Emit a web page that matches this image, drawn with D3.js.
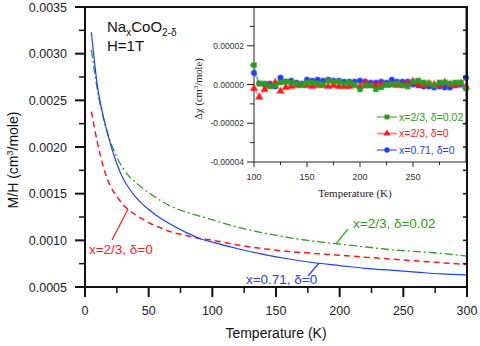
<!DOCTYPE html>
<html lang="en">
<head>
<meta charset="UTF-8">
<title>NaxCoO2 susceptibility</title>
<style>
  body { margin: 0; background: #fff; }
  text { font-family: Arial, "Liberation Sans", sans-serif; }
  .serif { font-family: "Times New Roman", "Liberation Serif", serif; }
</style>
</head>
<body>
<div id="chart"></div>
<script src="https://d3js.org/d3.v7.min.js"></script>
<script>
// main curves: temperature (K) and M/H (cm^3/mole)
var temps = [5, 10, 15, 20, 25, 30, 35, 40, 45, 50, 60, 70, 80, 90, 100, 120, 140, 160, 180, 200, 220, 240, 260, 280, 300];
var chiBlue  = [0.00323, 0.00263, 0.00229, 0.00203, 0.00182, 0.00166, 0.00155, 0.00146, 0.00139, 0.00133, 0.00123, 0.00115, 0.00108, 0.00102, 0.00098, 0.00091, 0.00085, 0.00080, 0.00076, 0.00073, 0.00070, 0.00068, 0.00066, 0.00064, 0.00063];
var chiRed   = [0.00238, 0.00203, 0.00176, 0.00158, 0.00147, 0.00138, 0.00132, 0.00127, 0.00123, 0.00119, 0.00113, 0.00108, 0.00105, 0.00102, 0.00100, 0.00095, 0.00091, 0.00088, 0.00086, 0.00084, 0.00082, 0.00080, 0.00078, 0.00076, 0.00074];
var chiGreen = [0.00304, 0.00259, 0.00228, 0.00206, 0.00189, 0.00177, 0.00168, 0.00162, 0.00156, 0.00151, 0.00142, 0.00135, 0.00130, 0.00126, 0.00122, 0.00114, 0.00108, 0.00103, 0.00099, 0.00096, 0.00093, 0.00090, 0.00088, 0.00086, 0.00083];

// inset: difference, in units of 1e-5 cm^3/mole
var insetT = [100, 105, 110, 115, 120, 125, 130, 135, 140, 145, 150, 155, 160, 165, 170, 175, 180, 185, 190, 195, 200,
              205, 210, 215, 220, 225, 230, 235, 240, 245, 250, 255, 260, 265, 270, 275, 280, 285, 290, 295, 300];
var dGreen = [1.0, 0.05, 0.05, -0.1, -0.05, 0.1, 0.15, 0.1, 0.05, 0.0, 0.1, 0.1, 0.05, 0.0, 0.2, 0.15, 0.15, 0.05, 0.1, 0.0, -0.25,
              -0.05, -0.05, -0.25, -0.15, 0.0, 0.0, 0.05, -0.05, -0.1, 0.15, 0.2, 0.1, 0.05, -0.05, 0.1, 0.1, 0.05, 0.1, 0.1, -0.2];
var dRed   = [-0.2, -0.65, -0.25, -0.05, 0.1, -0.35, -0.15, -0.1, -0.05, -0.05, -0.05, -0.1, -0.05, -0.05, -0.1, -0.05, -0.1, -0.1, -0.1, -0.05, -0.1,
              0.1, -0.05, -0.05, 0.0, -0.05, 0.0, -0.05, 0.0, 0.05, 0.15, 0.0, -0.05, 0.05, 0.0, -0.05, 0.1, 0.0, -0.05, 0.05, -0.1];
var dBlue  = [0.6, 0.05, 0.0, 0.05, -0.1, 0.35, 0.15, 0.2, 0.1, 0.05, 0.25, 0.2, 0.25, 0.2, 0.25, 0.2, 0.2, 0.15, 0.15, 0.15, 0.2,
              0.15, 0.1, 0.1, 0.15, 0.1, 0.25, 0.15, 0.15, 0.15, 0.0, -0.05, -0.1, -0.1, -0.15, -0.1, -0.15, -0.15, -0.05, 0.0, 0.35];

var mainYTicks = [0.0005, 0.0010, 0.0015, 0.0020, 0.0025, 0.0030, 0.0035];
var mainXTicks = [0, 50, 100, 150, 200, 250, 300];
var insetYTicks = [-4, -2, 0, 2];
var insetXTicks = [100, 150, 200, 250];

var cBlue = "#1f3dff", cRed = "#ff1a1a", cGreen = "#2f9a22";

var W = 480, H = 346;
var svg = d3.select("#chart").append("svg").attr("width", W).attr("height", H);

var x = d3.scaleLinear().domain([0, 300]).range([85, 467]);
var y = d3.scaleLinear().domain([0.0005, 0.0035]).range([287, 7]);

// curves
var line = d3.line().x(function(d) { return x(d[0]); }).y(function(d) { return y(d[1]); }).curve(d3.curveMonotoneX);
function pairs(a, b) { return a.map(function(v, i) { return [v, b[i]]; }); }

svg.append("path").attr("d", line(pairs(temps, chiGreen))).attr("fill", "none")
  .attr("stroke", cGreen).attr("stroke-width", 1.3).attr("stroke-dasharray", "8,3,2,3");
svg.append("path").attr("d", line(pairs(temps, chiRed))).attr("fill", "none")
  .attr("stroke", cRed).attr("stroke-width", 1.5).attr("stroke-dasharray", "6,4");
svg.append("path").attr("d", line(pairs(temps, chiBlue))).attr("fill", "none")
  .attr("stroke", cBlue).attr("stroke-width", 1.2);

// main axes
var minorY = d3.range(0.00075, 0.0035, 0.0005);
var minorX = d3.range(25, 300, 50);
var ax = svg.append("g").attr("stroke", "#111");
mainYTicks.forEach(function(v) {
  ax.append("line").attr("x1", 75).attr("x2", 85).attr("y1", y(v)).attr("y2", y(v)).attr("stroke-width", 2);
});
minorY.forEach(function(v) {
  ax.append("line").attr("x1", 79).attr("x2", 85).attr("y1", y(v)).attr("y2", y(v)).attr("stroke-width", 1.5);
});
mainXTicks.forEach(function(t) {
  ax.append("line").attr("x1", x(t)).attr("x2", x(t)).attr("y1", 287).attr("y2", 297).attr("stroke-width", 2);
});
minorX.forEach(function(t) {
  ax.append("line").attr("x1", x(t)).attr("x2", x(t)).attr("y1", 287).attr("y2", 293).attr("stroke-width", 1.5);
});

svg.selectAll(".ylab").data(mainYTicks).enter().append("text")
  .attr("x", 67).attr("y", function(d) { return y(d) + 4.5; })
  .attr("text-anchor", "end").attr("font-size", 12.5).attr("fill", "#222")
  .text(function(d) { return d3.format(".4f")(d); });
svg.selectAll(".xlab").data(mainXTicks).enter().append("text")
  .attr("x", function(d) { return x(d); }).attr("y", 315)
  .attr("text-anchor", "middle").attr("font-size", 12.5).attr("fill", "#222")
  .text(function(d) { return d; });

svg.append("text").attr("x", 276).attr("y", 338).attr("text-anchor", "middle")
  .attr("font-size", 14).attr("fill", "#111").text("Temperature (K)");
var yt = svg.append("text").attr("transform", "translate(18,160) rotate(-90)")
  .attr("text-anchor", "middle").attr("font-size", 14).attr("fill", "#111");
yt.append("tspan").text("M/H (cm");
yt.append("tspan").attr("dy", -5).attr("font-size", 9).text("3");
yt.append("tspan").attr("dy", 5).text("/mole)");

// compound label
var t1 = svg.append("text").attr("x", x(17.3)).attr("y", y(0.003232)).attr("font-size", 15).attr("fill", "#111");
t1.append("tspan").text("Na");
t1.append("tspan").attr("dy", 4).attr("font-size", 10).text("x");
t1.append("tspan").attr("dy", -4).text("CoO");
t1.append("tspan").attr("dy", 4).attr("font-size", 10).text("2-δ");
svg.append("text").attr("x", x(17.3)).attr("y", y(0.003030)).attr("font-size", 15).attr("fill", "#111").text("H=1T");

// curve labels with leaders
var notes = [
  { t: "x=2/3, δ=0",    c: cRed,   lx: 3.1,   ly: 0.000854, a: [21.2, 0.001004], b: [33.8, 0.001336] },
  { t: "x=2/3, δ=0.02", c: cGreen, lx: 210.5, ly: 0.001132, a: [197, 0.000961],  b: [206.5, 0.001121] },
  { t: "x=0.71, δ=0",   c: cBlue,  lx: 126.4, ly: 0.000532, a: [175.1, 0.000618], b: [183.8, 0.000757] }
];
notes.forEach(function(n) {
  svg.append("line").attr("x1", x(n.a[0])).attr("y1", y(n.a[1])).attr("x2", x(n.b[0])).attr("y2", y(n.b[1]))
    .attr("stroke", n.c).attr("stroke-width", 1.2);
  svg.append("text").attr("x", x(n.lx)).attr("y", y(n.ly)).attr("font-size", 13.5).attr("fill", n.c).text(n.t);
});

// ---- inset ----
var ix = d3.scaleLinear().domain([100, 300]).range([254, 466]);
var iy = d3.scaleLinear().domain([-4e-5, 4e-5]).range([162, 7]);
var ig = svg.append("g");
ig.append("rect").attr("x", 254).attr("y", 7).attr("width", 212).attr("height", 155)
  .attr("fill", "#fff").attr("stroke", "#222").attr("stroke-width", 1);

insetYTicks.forEach(function(v) {
  ig.append("line").attr("x1", 247).attr("x2", 254).attr("y1", iy(v * 1e-5)).attr("y2", iy(v * 1e-5)).attr("stroke", "#222");
});
[-3, -1, 1, 3].forEach(function(v) {
  ig.append("line").attr("x1", 250).attr("x2", 254).attr("y1", iy(v * 1e-5)).attr("y2", iy(v * 1e-5)).attr("stroke", "#222");
});
insetXTicks.forEach(function(t) {
  ig.append("line").attr("x1", ix(t)).attr("x2", ix(t)).attr("y1", 162).attr("y2", 167).attr("stroke", "#222");
});
[125, 175, 225, 275].forEach(function(t) {
  ig.append("line").attr("x1", ix(t)).attr("x2", ix(t)).attr("y1", 162).attr("y2", 165).attr("stroke", "#222");
});
ig.selectAll(".iyl").data(insetYTicks).enter().append("text")
  .attr("x", 244).attr("y", function(d) { return iy(d * 1e-5) + 3; })
  .attr("text-anchor", "end").attr("font-size", 8.5).attr("fill", "#333")
  .text(function(d) { return (d < 0 ? "-" : "") + d3.format(".5f")(Math.abs(d) * 1e-5); });
ig.selectAll(".ixl").data(insetXTicks).enter().append("text")
  .attr("x", function(d) { return ix(d); }).attr("y", 180)
  .attr("text-anchor", "middle").attr("font-size", 9).attr("fill", "#333").text(function(d) { return d; });
ig.append("text").attr("class", "serif").attr("x", 355).attr("y", 197).attr("text-anchor", "middle")
  .attr("font-size", 11).attr("fill", "#222").text("Temperature (K)");
var iyt = ig.append("text").attr("class", "serif").attr("transform", "translate(202,89) rotate(-90)")
  .attr("text-anchor", "middle").attr("font-size", 10.5).attr("fill", "#222");
iyt.append("tspan").text("Δχ (cm");
iyt.append("tspan").attr("dy", -4).attr("font-size", 7).text("3");
iyt.append("tspan").attr("dy", 4).text("/mole)");

var iline = d3.line().x(function(d) { return ix(d[0]); }).y(function(d) { return iy(d[1] * 1e-5); });
var series = [
  { d: dBlue, c: cBlue, m: d3.symbolCircle, s: 22, name: "x=0.71, δ=0" },
  { d: dRed, c: cRed, m: d3.symbolTriangle, s: 22, name: "x=2/3, δ=0" },
  { d: dGreen, c: cGreen, m: d3.symbolSquare, s: 24, name: "x=2/3, δ=0.02" }
];
series.forEach(function(s) {
  var pts = pairs(insetT, s.d);
  ig.append("path").attr("d", iline(pts)).attr("fill", "none").attr("stroke", s.c)
    .attr("stroke-opacity", 0.6).attr("stroke-width", 1);
  ig.selectAll(null).data(pts).enter().append("path")
    .attr("d", d3.symbol().type(s.m).size(s.s))
    .attr("transform", function(d) { return "translate(" + ix(d[0]) + "," + iy(d[1] * 1e-5) + ")"; })
    .attr("fill", s.c).attr("stroke", s.c).attr("stroke-opacity", 0.35).attr("stroke-width", 1.5);
});

// inset legend
var legOrder = [series[2], series[1], series[0]];
legOrder.forEach(function(s, i) {
  var ly = 117 + i * 16.5;
  ig.append("line").attr("x1", 377).attr("x2", 397).attr("y1", ly).attr("y2", ly)
    .attr("stroke", s.c).attr("stroke-opacity", 0.5).attr("stroke-width", 2);
  ig.append("path").attr("d", d3.symbol().type(s.m).size(s.s)).attr("transform", "translate(387," + ly + ")")
    .attr("fill", s.c);
  ig.append("text").attr("x", 399).attr("y", ly + 3.5).attr("font-size", 10.5).attr("fill", s.c).text(s.name);
});

// right frame ticks drawn over inset, then frame
mainYTicks.concat(minorY).forEach(function(v) {
  svg.append("line").attr("x1", 463).attr("x2", 467).attr("y1", y(v)).attr("y2", y(v)).attr("stroke", "#111").attr("stroke-width", 1.5);
});
svg.append("rect").attr("x", 85).attr("y", 7).attr("width", 382).attr("height", 280)
  .attr("fill", "none").attr("stroke", "#111").attr("stroke-width", 2);
</script>
</body>
</html>
